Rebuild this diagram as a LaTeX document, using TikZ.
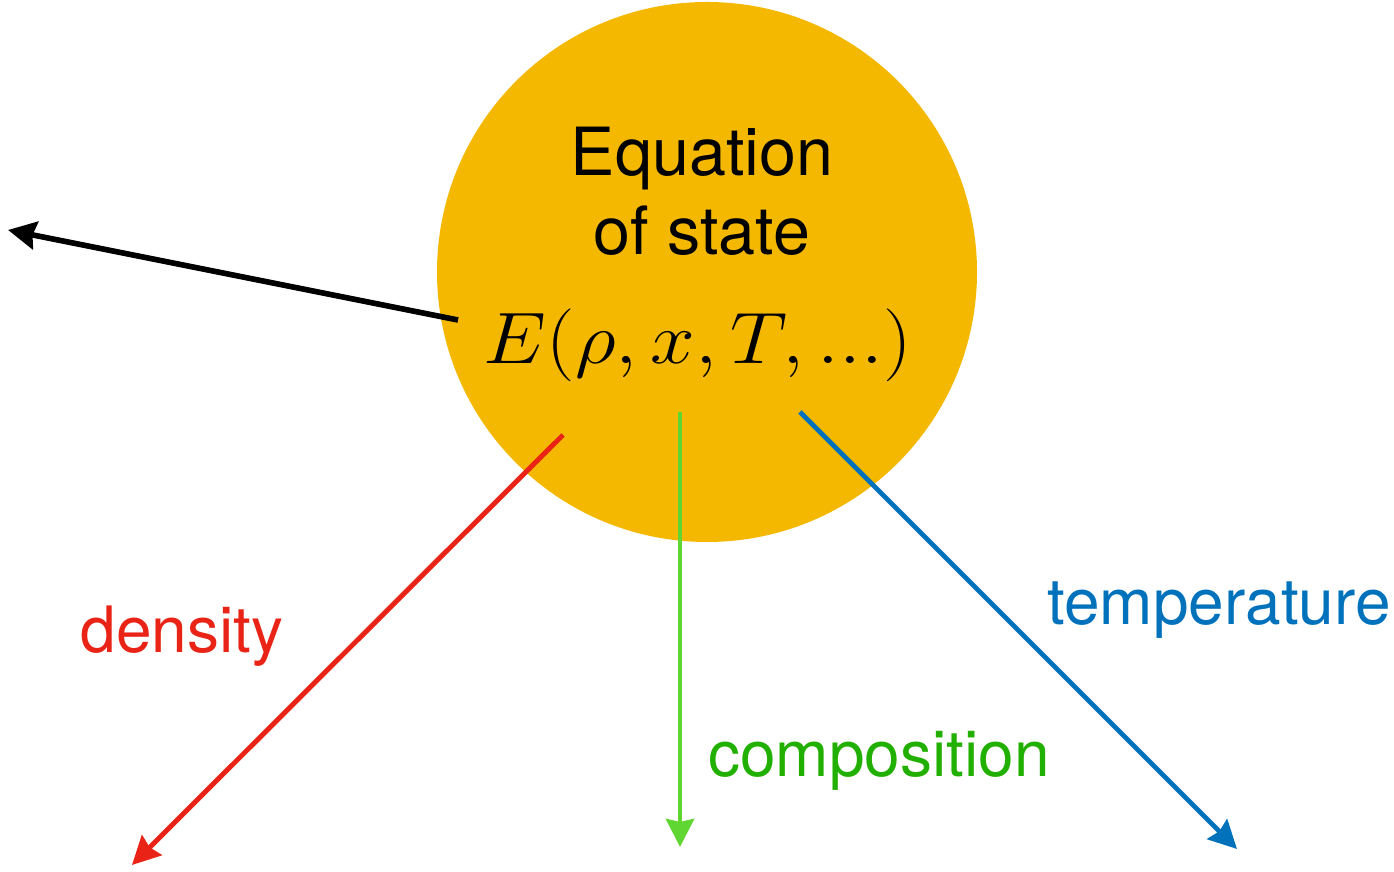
\documentclass[tikz,border=0pt]{standalone}
\usepackage{fontspec}
\setmainfont{TeX Gyre Heros}
\usepackage{amsmath,graphicx}
\usetikzlibrary{arrows.meta,positioning}
\definecolor{eosorange}{RGB}{245,184,0}
\definecolor{cdens}{RGB}{233,36,22}
\definecolor{ccomparr}{RGB}{96,214,50}
\definecolor{ccomp}{RGB}{34,176,0}
\definecolor{ctemp}{RGB}{0,114,188}
\tikzset{
  ball/.style={circle,fill=eosorange,draw=none,minimum size=5.4cm,inner sep=0pt},
  lab/.style={font=\fontsize{18.2}{22.2}\selectfont,inner sep=0pt},
  titlelab/.style={font=\fontsize{18.9}{22.4}\selectfont,inner sep=0pt,align=center},
  eqlab/.style={font=\fontsize{22.4}{28}\selectfont,inner sep=0pt},
  arr/.style={-{Stealth[length=2.8mm,width=2.8mm,inset=0.3mm]},line width=1.4pt},
  blackarr/.style={arr,line width=1.6pt}
}
\begin{document}
\begin{tikzpicture}[scale=1.0,>=Stealth]
  \useasboundingbox (0,0) rectangle (13.94,8.72);
  \node[ball] (eos) at (7.07,6.00) {};
  \node[titlelab] (title) at (7.02,6.81) {Equation\\of state};
  \node[eqlab] (formula) at (6.98,5.27) {\scalebox{1.10}[1]{$E(\rho,x,T,...)$}};
  % start and end points of the four arrows
  \coordinate (outs) at (4.58,5.52);
  \coordinate (oute) at (0.08,6.42);
  \coordinate (denss) at (5.63,4.37);
  \coordinate (dense) at (1.32,0.07);
  \coordinate (comps) at (6.80,4.60);
  \coordinate (compe) at (6.80,0.25);
  \coordinate (temps) at (8.00,4.60);
  \coordinate (tempe) at (12.37,0.23);
  \draw[blackarr] (outs) -- (oute);
  \draw[arr,cdens] (denss) -- (dense);
  \draw[arr,ccomparr] (comps) -- (compe);
  \draw[arr,ctemp] (temps) -- (tempe);
  \node[lab,text=cdens,anchor=base] (density) at (1.82,2.19) {density};
  \node[lab,text=ccomp,anchor=base] (composition) at (8.79,0.95) {composition};
  \node[lab,text=ctemp,anchor=base] (temperature) at (12.19,2.47) {temperature};
\end{tikzpicture}
\end{document}
